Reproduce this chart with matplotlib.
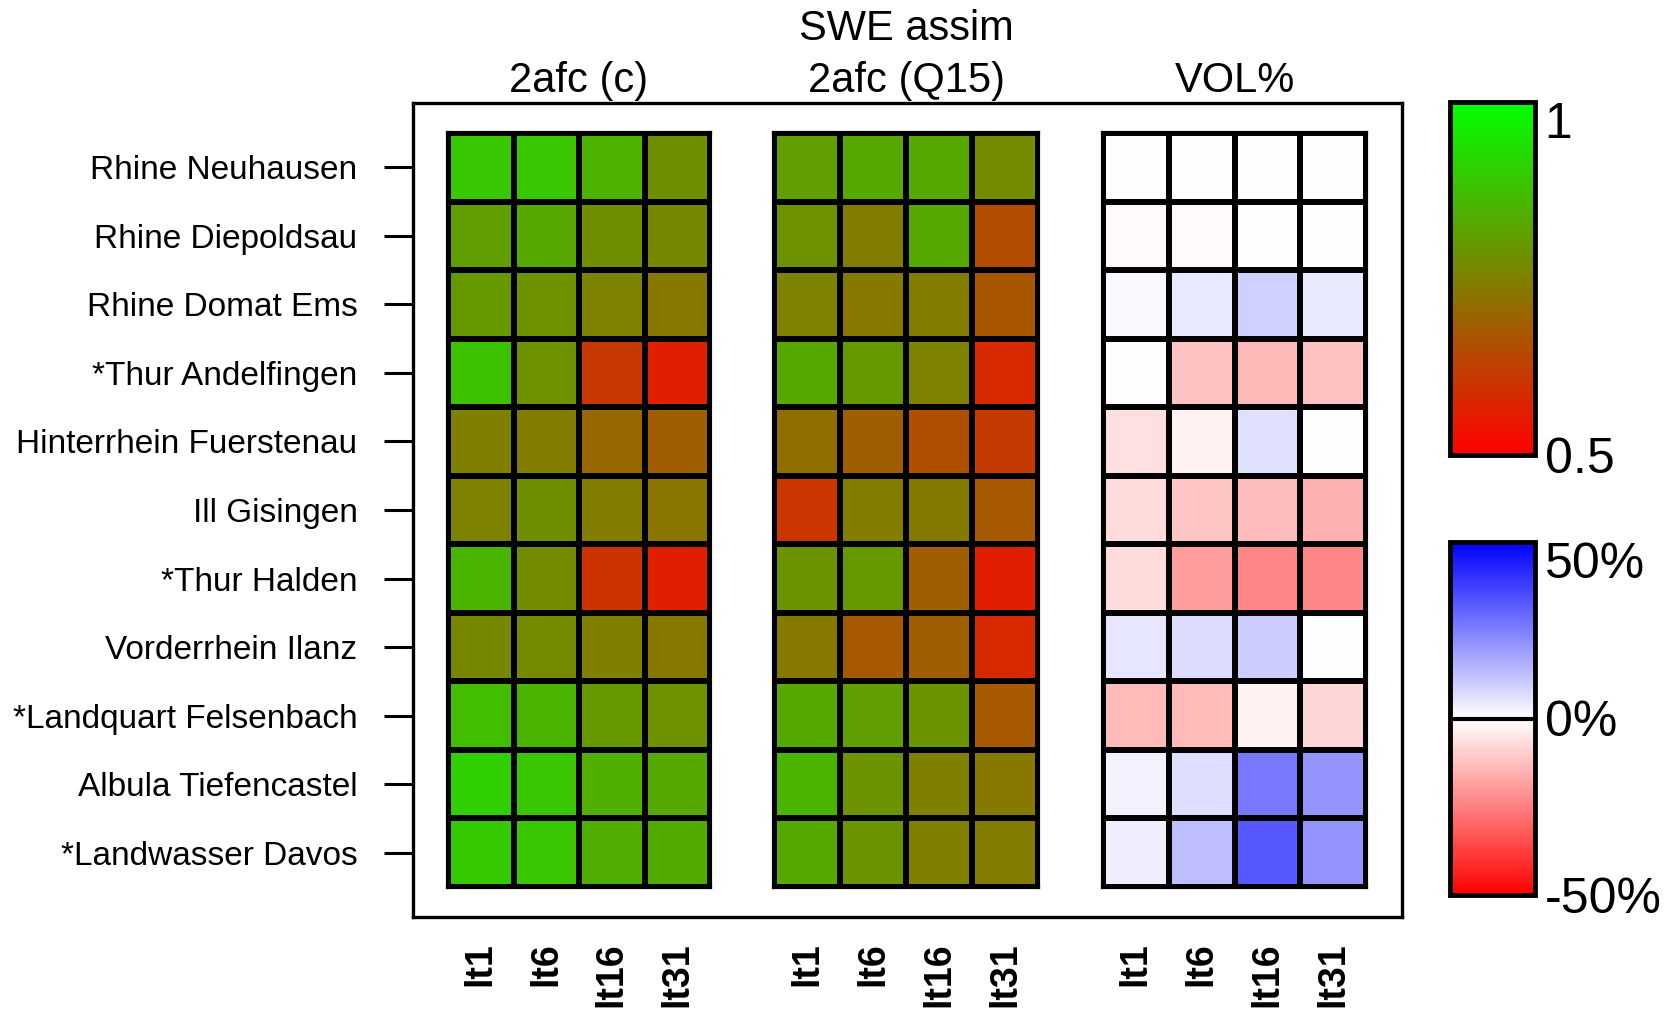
import numpy as np
import matplotlib
matplotlib.use('Agg')
import matplotlib.pyplot as plt
from matplotlib.colors import LinearSegmentedColormap

plt.rcParams['font.family'] = ['Liberation Sans', 'DejaVu Sans']

stations = ['Rhine Neuhausen', 'Rhine Diepoldsau', 'Rhine Domat Ems', '*Thur Andelfingen',
            'Hinterrhein Fuerstenau', 'Ill Gisingen', '*Thur Halden', 'Vorderrhein Ilanz',
            '*Landquart Felsenbach', 'Albula Tiefencastel', '*Landwasser Davos']
lead_times = ['lt1', 'lt6', 'lt16', 'lt31']
panel_titles = ['2afc (c)', '2afc (Q15)', 'VOL%']

# 2afc score for the categorical forecast (rows = stations, cols = lead times)
afc_c = [
    [0.89, 0.89, 0.85, 0.78],
    [0.81, 0.83, 0.78, 0.765],
    [0.80, 0.785, 0.755, 0.735],
    [0.88, 0.785, 0.61, 0.56],
    [0.75, 0.745, 0.705, 0.685],
    [0.755, 0.78, 0.745, 0.73],
    [0.855, 0.775, 0.60, 0.56],
    [0.765, 0.77, 0.75, 0.735],
    [0.87, 0.855, 0.80, 0.785],
    [0.905, 0.89, 0.845, 0.83],
    [0.895, 0.89, 0.84, 0.835],
]

# 2afc score for flows above Q15
afc_q15 = [
    [0.81, 0.83, 0.83, 0.775],
    [0.785, 0.745, 0.83, 0.65],
    [0.755, 0.735, 0.745, 0.67],
    [0.83, 0.80, 0.755, 0.58],
    [0.715, 0.685, 0.655, 0.615],
    [0.605, 0.745, 0.74, 0.675],
    [0.79, 0.80, 0.685, 0.56],
    [0.735, 0.675, 0.685, 0.58],
    [0.83, 0.81, 0.79, 0.675],
    [0.855, 0.79, 0.75, 0.735],
    [0.83, 0.79, 0.75, 0.745],
]

# volume error in percent
vol_pct = [
    [0, 0, 0, 0],
    [-1, -1, 0, 0],
    [1.5, 4.5, 9, 4],
    [0, -12, -14, -12],
    [-6, -2.5, 6, 0],
    [-7, -11.5, -13, -15.5],
    [-7, -19.5, -23.5, -23.5],
    [5, 7, 10, 0],
    [-13.5, -13.5, -2.5, -8],
    [2.5, 6.5, 26.5, 21],
    [3.5, 12.5, 32.5, 21],
]

W, H = 1672, 1009
fig = plt.figure(figsize=(W / 100, H / 100), dpi=100)


def rect(x0, y0, x1, y1):
    return [x0 / W, 1 - y1 / H, (x1 - x0) / W, (y1 - y0) / H]


cm_rg = LinearSegmentedColormap.from_list('rg', ['#ff0000', '#00ff00'])
cm_rwb = LinearSegmentedColormap.from_list('rwb', ['#ff0000', '#ffffff', '#0000ff'])

# outer frame with station labels
frame_top, frame_bot = 103, 917
panel_top, panel_bot = 133, 887
nrow = len(stations)
per_px = nrow / (panel_bot - panel_top)
frame = fig.add_axes(rect(413, frame_top, 1402, frame_bot))
frame.set_ylim(nrow - 0.5 + (frame_bot - panel_bot) * per_px,
               -0.5 - (panel_top - frame_top) * per_px)
frame.set_xticks([])
frame.set_yticks(range(nrow))
frame.set_yticklabels(stations, fontsize=24)
frame.tick_params(axis='y', length=21, width=2.2, pad=19)
for s in frame.spines.values():
    s.set_linewidth(2.4)

panel_x = [(448, 710), (774, 1038), (1103, 1366)]
datasets = [afc_c, afc_q15, vol_pct]
cmaps = [(cm_rg, 0.5, 1.0), (cm_rg, 0.5, 1.0), (cm_rwb, -50, 50)]
mappables = []
for (x0, x1), data, (cm, vmin, vmax), title in zip(panel_x, datasets, cmaps, panel_titles):
    ax = fig.add_axes(rect(x0, panel_top, x1, panel_bot))
    ax.set_facecolor('none')
    m = ax.pcolormesh(np.array(data), cmap=cm, vmin=vmin, vmax=vmax,
                      edgecolors='k', linewidth=3)
    mappables.append(m)
    ax.set_xlim(0, 4)
    ax.set_ylim(nrow, 0)
    ax.set_yticks([])
    ax.set_xticks(np.arange(4) + 0.5)
    ax.set_xticklabels(lead_times, rotation=90, fontsize=27, fontweight='bold',
                       rotation_mode='anchor', ha='right', va='center')
    ax.tick_params(axis='x', length=0, pad=40)
    for s in ax.spines.values():
        s.set_linewidth(3)
    fig.text((x0 + x1) / 2 / W, 1 - 81 / H, title, fontsize=30, ha='center', va='center')

fig.text((panel_x[1][0] + panel_x[1][1]) / 2 / W, 1 - 29 / H, 'SWE assim',
         fontsize=30, ha='center', va='center')

# colour bars
cax1 = fig.add_axes(rect(1450, 102, 1535, 455))
cb1 = fig.colorbar(mappables[0], cax=cax1, ticks=[0.5, 1.0])
cb1.ax.set_yticklabels(['0.5', '1'])
cax2 = fig.add_axes(rect(1450, 542, 1535, 895))
cb2 = fig.colorbar(mappables[2], cax=cax2, ticks=[-50, 0, 50])
cb2.ax.set_yticklabels(['-50%', '0%', '50%'])
cax2.axhline(0, color='k', lw=3)
for cb in (cb1, cb2):
    cb.outline.set_linewidth(3.5)
    cb.ax.tick_params(length=0, pad=7, labelsize=36)
    labels = cb.ax.get_yticklabels()
    labels[-1].set_va('top')

fig.savefig('out.png', dpi=100)
